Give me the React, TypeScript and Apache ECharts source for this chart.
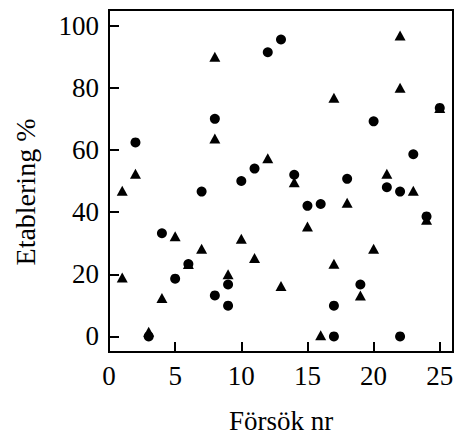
import React, { useEffect, useRef } from "react";
import * as echarts from "echarts";

const xTicks = [0, 5, 10, 15, 20, 25];
const yTicks = [0, 20, 40, 60, 80, 100];

const circleTrials = [2, 3, 4, 5, 6, 7, 8, 8, 9, 9, 10, 11, 12, 13, 14, 15, 16, 17, 17, 18, 19, 20, 21, 22, 22, 23, 24, 25];
const circleValues = [62.4, 0, 33.2, 18.6, 23.3, 46.6, 70, 13.2, 16.7, 9.9, 50, 54, 91.4, 95.5, 52, 42, 42.6, 9.9, 0, 50.7, 16.7, 69.2, 48, 46.6, 0, 58.6, 38.6, 73.5];

const triangleTrials = [1, 1, 2, 3, 4, 5, 6, 7, 8, 8, 9, 10, 11, 12, 13, 14, 15, 16, 17, 17, 18, 19, 20, 21, 22, 22, 23, 24, 25];
const triangleValues = [46.9, 19, 52.3, 1.5, 12.4, 32.2, 23.3, 28.2, 90, 63.7, 20, 31.4, 25.2, 57.3, 16.2, 49.6, 35.4, 0.4, 76.8, 23.4, 43, 13.2, 28.2, 52.3, 96.8, 80, 46.9, 37.5, 73.5];

const xTitle = "Försök nr";
const yTitle = "Etablering %";

const FONT = "Liberation Serif";

export default function App() {
  const ref = useRef<HTMLDivElement>(null);
  useEffect(() => {
    if (!ref.current) return;
    const chart = echarts.init(ref.current, null, { renderer: "svg" });
    chart.setOption({
      animation: false,
      backgroundColor: "#fff",
      textStyle: { fontFamily: FONT },
      grid: {
        left: 109,
        right: 1,
        top: 10,
        bottom: 83,
        containLabel: false,
        outerBoundsMode: "none",
        show: true,
        borderColor: "#000",
        borderWidth: 2,
        backgroundColor: "transparent",
      },
      graphic: [
        {
          type: "text",
          x: 25,
          y: 192,
          rotation: Math.PI / 2,
          style: {
            text: yTitle,
            fontFamily: FONT,
            fontSize: 28,
            fill: "#000",
            align: "center",
            verticalAlign: "middle",
          },
        },
      ],
      xAxis: {
        type: "value",
        min: 0,
        max: 26,
        name: xTitle,
        nameLocation: "middle",
        nameGap: 55,
        nameTextStyle: { fontFamily: FONT, fontSize: 27, color: "#000" },
        axisLine: { show: true, onZero: false, lineStyle: { color: "#000", width: 2 } },
        axisTick: { show: true, inside: true, length: 10, lineStyle: { color: "#000", width: 2 }, customValues: xTicks },
        axisLabel: { fontFamily: FONT, fontSize: 27, color: "#000", margin: 10, customValues: xTicks },
        splitLine: { show: false },
      },
      yAxis: {
        type: "value",
        min: -5,
        max: 105,
        axisLine: { show: true, onZero: false, lineStyle: { color: "#000", width: 2 } },
        axisTick: { show: true, inside: true, length: 10, lineStyle: { color: "#000", width: 2 }, customValues: yTicks },
        axisLabel: { fontFamily: FONT, fontSize: 27, color: "#000", margin: 10, customValues: yTicks },
        splitLine: { show: false },
      },
      series: [
        {
          type: "scatter",
          symbol: "triangle",
          symbolSize: [11, 10],
          itemStyle: { color: "#000", opacity: 1 },
          data: triangleTrials.map((t, i) => [t, triangleValues[i]]),
        },
        {
          type: "scatter",
          symbol: "circle",
          symbolSize: 10,
          itemStyle: { color: "#000", opacity: 1 },
          data: circleTrials.map((t, i) => [t, circleValues[i]]),
        },
      ],
    });
    return () => chart.dispose();
  }, []);
  return (
    <div
      ref={ref}
      style={{ position: "absolute", left: 0, top: 0, width: 454, height: 435 }}
    />
  );
}
